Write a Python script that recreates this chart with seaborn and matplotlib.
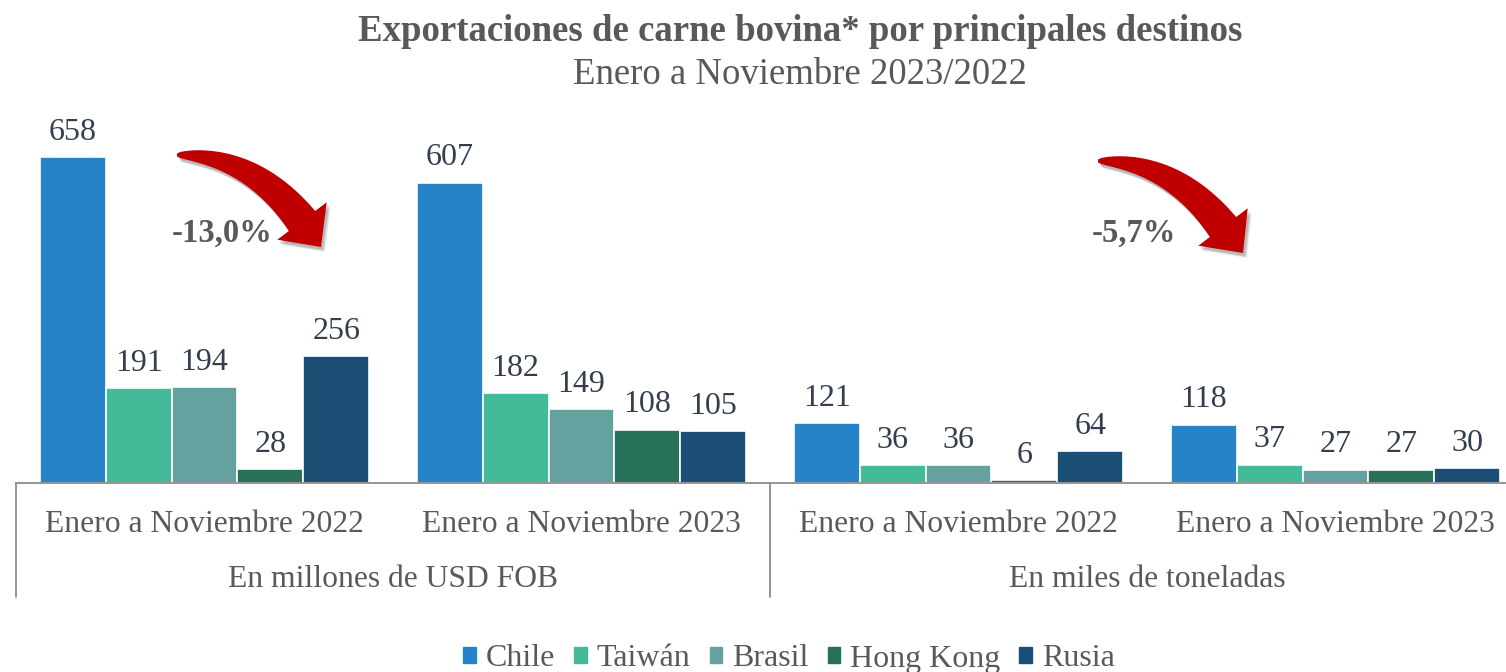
import numpy as np
import pandas as pd
import matplotlib
matplotlib.use("Agg")
import matplotlib.pyplot as plt
import seaborn as sns
from matplotlib.patches import Polygon

# ---------------- data ----------------
destinos = ["Chile", "Taiwán", "Brasil", "Hong Kong", "Rusia"]
periodos = ["Enero a Noviembre 2022", "Enero a Noviembre 2023",
            "Enero a Noviembre 2022", "Enero a Noviembre 2023"]
unidades = ["En millones de USD FOB", "En miles de toneladas"]
usd_2022 = [658, 191, 194, 28, 256]
usd_2023 = [607, 182, 149, 108, 105]
ton_2022 = [121, 36, 36, 6, 64]
ton_2023 = [118, 37, 27, 27, 30]
variaciones = ["-13,0%", "-5,7%"]
colores = ["#2783C8", "#43BA98", "#63A29E", "#27705A", "#1B4F76"]

titulo = "Exportaciones de carne bovina* por principales destinos"
subtitulo = "Enero a Noviembre 2023/2022"

keys = ["usd22", "usd23", "ton22", "ton23"]
series = [usd_2022, usd_2023, ton_2022, ton_2023]
rows = []
for k, vals in zip(keys, series):
    for d, v in zip(destinos, vals):
        rows.append({"grupo": k, "destino": d, "valor": v})
df = pd.DataFrame(rows)

# ---------------- style ----------------
sns.set_style("white")
plt.rcParams["font.family"] = ["Liberation Serif", "DejaVu Serif"]
GREY = "#595959"
LABEL = "#333F4F"

W, H = 1506, 672
fig = plt.figure(figsize=(W / 100, H / 100), dpi=100)
base_y = 483
top_y = 100
ax = fig.add_axes([16 / W, (H - base_y) / H, (W - 16) / W, (base_y - top_y) / H])

sns.barplot(data=df, x="grupo", y="valor", hue="destino", order=keys,
            hue_order=destinos, palette=colores, width=0.873, gap=0,
            edgecolor="white", linewidth=1.2, legend=False, ax=ax,
            errorbar=None, saturation=1)

ax.set_xlim(-0.5, -0.5 + (W - 16) / 377)
ax.set_ylim(0, 774)
for c in ax.containers:
    ax.bar_label(c, padding=7.5, fontsize=23, color=LABEL)

sns.despine(ax=ax, left=True, top=True, right=True)
ax.spines["bottom"].set_color("#8C8C8C")
ax.spines["bottom"].set_linewidth(1.3)
ax.set_xticks([])
ax.set_yticks([])
ax.set_xlabel("")
ax.set_ylabel("")

axh = base_y - top_y
xt = ax.get_xaxis_transform()
for i, p in enumerate(periodos):
    ax.text(i, -49 / axh, p, transform=xt, ha="center", va="baseline",
            fontsize=22.8, color=GREY)
for j, u in enumerate(unidades):
    ax.text(0.5 + 2 * j, -104 / axh, u, transform=xt, ha="center",
            va="baseline", fontsize=22.8, color=GREY)
for xs in [-0.5, 1.5]:
    ax.plot([xs, xs], [0, -114 / axh], transform=xt, color="#8C8C8C",
            lw=1.3, clip_on=False)

# titles
fig.text(800 / W, 1 - 41 / H, titulo, ha="center", va="baseline",
         fontsize=26.5, fontweight="bold", color=GREY)
fig.text(800 / W, 1 - 84 / H, subtitulo, ha="center", va="baseline",
         fontsize=26.5, color=GREY)

# legend
handles = [plt.Rectangle((0, 0), 1, 1, color=c) for c in colores]
fig.legend(handles, destinos, loc="center", bbox_to_anchor=(789 / W, 1 - 659 / H),
           ncol=5, frameon=False, fontsize=23, handlelength=0.4,
           handleheight=0.4, handletextpad=0.3, columnspacing=0.6,
           labelcolor=GREY, borderpad=0, borderaxespad=0)

# curved arrows (decoration, pixel coordinates)
def arrow_poly(T, C, B, tip, w0, w1, hw, n=50):
    t = np.linspace(0, 1, n)[:, None]
    T, C, B, tip = map(np.array, (T, C, B, tip))
    P = (1 - t) ** 2 * T + 2 * (1 - t) * t * C + t ** 2 * B
    D = 2 * (1 - t) * (C - T) + 2 * t * (B - C)
    D = D / np.linalg.norm(D, axis=1, keepdims=True)
    N = np.column_stack([-D[:, 1], D[:, 0]])
    w = (w0 + (w1 - w0) * t[:, 0] ** 0.6)[:, None] / 2
    left = P + N * w
    right = P - N * w
    dB = D[-1]
    nB = np.array([-dB[1], dB[0]])
    h1 = B + nB * hw
    h2 = B - nB * hw
    pts = np.vstack([left, h1, tip, h2, right[::-1]])
    return pts

def to_fig(pts):
    return np.column_stack([pts[:, 0] / W, 1 - pts[:, 1] / H])

arrows = [
    dict(T=(177, 155), C=(252, 155), B=(302, 221), tip=(321, 247)),
    dict(T=(1098, 161), C=(1173, 161), B=(1223, 227), tip=(1243, 253)),
]
for a in arrows:
    pts = arrow_poly(a["T"], a["C"], a["B"], a["tip"], 3, 33, 31)
    for k, (dx, dy, al) in enumerate([(4, 5, 0.08), (3, 4, 0.10), (2, 3, 0.12)]):
        sh = pts + np.array([dx, dy])
        fig.patches.append(Polygon(to_fig(sh), closed=True, transform=fig.transFigure,
                                   facecolor="black", alpha=al, edgecolor="none"))
    fig.patches.append(Polygon(to_fig(pts), closed=True, transform=fig.transFigure,
                               facecolor="#C00000", edgecolor="none"))

fig.text(222 / W, 1 - 233 / H, variaciones[0], ha="center", va="center",
         fontsize=23.5, fontweight="bold", color=GREY)
fig.text(1134 / W, 1 - 233 / H, variaciones[1], ha="center", va="center",
         fontsize=23.5, fontweight="bold", color=GREY)

fig.savefig("out.png", dpi=100)
